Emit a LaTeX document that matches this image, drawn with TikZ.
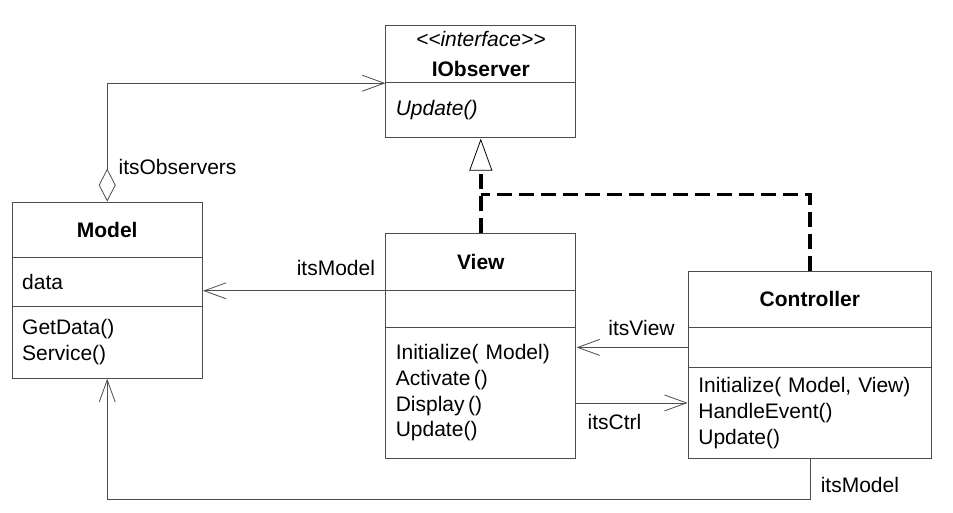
\documentclass[tikz,border=0pt]{standalone}
\usepackage{fontspec}
\setmainfont{Liberation Sans}
\usetikzlibrary{arrows.meta,matrix,positioning}

\begin{document}
\begin{tikzpicture}[
    font=\fontsize{21}{25.7}\selectfont,
    line width=0.8pt,
    part/.style={draw=black!70, inner xsep=10pt, inner ysep=3pt},
    head/.style={part, align=center, minimum height=56pt},
    attr/.style={part, align=left, minimum height=#1},
    oper/.style={part, align=left, minimum height=#1},
    cls/.style={inner sep=0pt, row sep=-\pgflinewidth, nodes={text width=#1}},
    lbl/.style={inner sep=2pt},
    assoc/.style={draw=black!70},
    barb/.style={-{Straight Barb[length=22pt, width=16pt]}},
    realize/.style={line width=3.5pt, dash pattern=on 15pt off 7pt}
  ]

\useasboundingbox (0,0) rectangle (953pt,-512pt);

% Model / View / Controller with the observer interface on top.

% --- IObserver (interface) ---
    \matrix (iobs) [cls=170pt, anchor=north west] at (385pt,-25pt) {
      \node[head, minimum height=57pt] (iobs-h) {\textit{{<}{<}interface{>}{>}}\\[4pt]\textbf{IObserver}}; \\
      \node[oper=55pt] (iobs-o) {\textit{Update()}}; \\
    };

% --- View ---
    \matrix (view) [cls=170pt, below=94pt of iobs] {
      \node[head, minimum height=57pt] (view-h) {\textbf{View}}; \\
      \node[attr=37pt] (view-a) {}; \\
      \node[oper=131pt] (view-o) {Initialize( Model)\\Activate\,()\\Display\,()\\Update()}; \\
    };

% --- Model ---
    \matrix (model) [cls=170pt, anchor=north east] at ([xshift=-182pt,yshift=31pt]view.north west) {
      \node[head, minimum height=55pt] (model-h) {\textbf{Model}}; \\
      \node[attr=49pt] (model-a) {data}; \\
      \node[oper=72pt] (model-o) {GetData()\\Service()}; \\
    };

% --- Controller ---
    \matrix (ctrl) [cls=223pt, anchor=north west] at ([xshift=111pt,yshift=-38pt]view.north east) {
      \node[head] (ctrl-h) {\textbf{Controller}}; \\
      \node[attr=40pt] (ctrl-a) {}; \\
      \node[oper=91pt] (ctrl-o) {Initialize( Model, View)\\HandleEvent()\\Update()}; \\
    };

% --- associations ---
    \draw[assoc, {Diamond[open, length=33pt, width=17pt]}-{Straight Barb[length=22pt, width=16pt]}]
      (model.north) |- (iobs-h.south west);
    \node[lbl, anchor=base west] (obs-lbl) at ([xshift=9pt,yshift=27pt]model.north) {itsObservers};

    \draw[assoc, barb] (view-h.south west) -- (view-h.south west -| model.east);
    \node[lbl, anchor=base east] (vm-lbl) at ([xshift=-8pt,yshift=15pt]view-h.south west) {itsModel};

    \draw[assoc, barb] (ctrl-a.west) -- (ctrl-a.west -| view.east);
    \node[lbl, anchor=base east] (cv-lbl) at ([xshift=-11pt,yshift=12pt]ctrl-a.west) {itsView};

    \draw[assoc, barb] ([yshift=-10pt]view-o.east) -- ([yshift=-10pt]view-o.east -| ctrl.west);
    \node[lbl, anchor=base west] (vc-lbl) at ([xshift=9pt,yshift=-36.5pt]view-o.east) {itsCtrl};

    \draw[assoc, barb] (ctrl-o.south) -- ++(0,-41pt) -| (model-o.south);
    \node[lbl, anchor=base west] (cm-lbl) at ([xshift=8.5pt,yshift=-34pt]ctrl-o.south) {itsModel};

% --- realizations of IObserver ---
    \coordinate (rjoin) at ([yshift=38pt]view.north);
    \draw[realize, -{Triangle[open, length=32pt, width=23pt, line width=0.8pt]}] (view.north) -- (iobs.south);
    \draw[realize] (ctrl.north) |- (rjoin);

\end{tikzpicture}
\end{document}
